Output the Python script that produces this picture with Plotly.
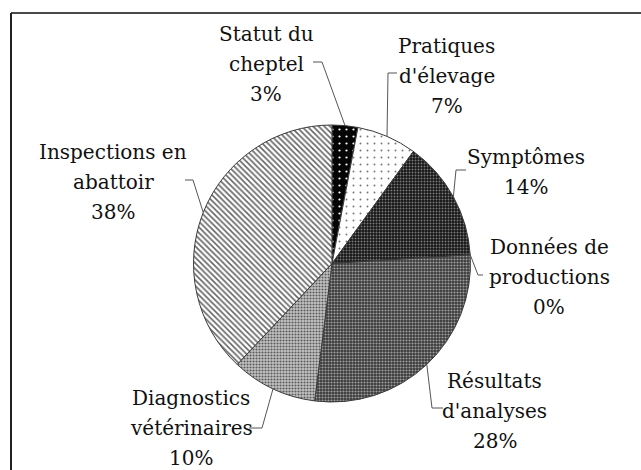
import math
import plotly.graph_objects as go

# ---- data ----
labels = ["Statut du<br>cheptel", "Pratiques<br>d'élevage", "Symptômes", "Données de<br>productions",
          "Résultats<br>d'analyses", "Diagnostics<br>vétérinaires", "Inspections en<br>abattoir"]
values = [3, 7, 14, 0, 28, 10, 38]

# ---- styles ----
W, H = 641, 470
CX, CY, R = 332, 263.5, 138.5
LINE_H = 30
pat_shape = [".", ".", ".", "", ".", ".", "\\"]
pat_fg = ["#ffffff", "#777777", "#7a7a7a", "#000000", "#a0a0a0", "#5a5a5a", "#666666"]
pat_bg = ["#050505", "#ffffff", "#151515", "#ffffff", "#3a3a3a", "#c4c4c4", "#ffffff"]
pat_size = [7, 7, 3, 4, 3, 3, 4]
pat_sol = [0.08, 0.06, 0.35, 0.3, 0.4, 0.4, 0.4]

# label centre positions (px) and leader-line elbows (px): label end, elbow
label_pos = [(266, 64), (447, 76), (526, 172), (549, 277), (495, 411), (191, 428), (113, 182)]
leader = [((313, 62), (322, 62)), ((397, 73), (388, 73)), ((466, 170), (456, 170)),
          ((483, 275), (478, 275)), ((443, 408), (432, 408)), ((249, 428), (262, 428)),
          ((185, 180), (193, 180))]

FONT = "DejaVu Serif"


def px(x):
    return x / W


def py(y):
    return 1 - y / H


fig = go.Figure()
fig.add_trace(go.Pie(
    labels=labels, values=values, sort=False, direction="clockwise", rotation=0,
    textinfo="none", hoverinfo="none", showlegend=False,
    domain=dict(x=[px(CX - R), px(CX + R)], y=[py(CY + R), py(CY - R)]),
    marker=dict(colors=pat_bg,
                line=dict(color="#3a3a3a", width=1),
                pattern=dict(shape=pat_shape, fgcolor=pat_fg, bgcolor=pat_bg,
                             size=pat_size, solidity=pat_sol, fillmode="replace")),
))

total = sum(values)
cum = 0
annotations = []
shapes = []
for i, (lab, v) in enumerate(zip(labels, values)):
    mid = (cum + v / 2) / total * 2 * math.pi
    cum += v
    ex = CX + R * math.sin(mid)
    ey = CY - R * math.cos(mid)
    (lx, ly), (bx, by) = leader[i]
    path = f"M {px(lx)} {py(ly)} L {px(bx)} {py(by)} L {px(ex)} {py(ey)}"
    shapes.append(dict(type="path", path=path, xref="paper", yref="paper",
                       line=dict(color="#555555", width=1)))
    pct = f"{round(v / total * 100)}%"
    lines = lab.split("<br>") + [pct]
    cx, cy = label_pos[i]
    n = len(lines)
    for k, t in enumerate(lines):
        yk = cy + (k - (n - 1) / 2) * LINE_H
        annotations.append(dict(x=px(cx), y=py(yk), xref="paper", yref="paper",
                                text=t, showarrow=False,
                                xanchor="center", yanchor="middle", align="center",
                                font=dict(family=FONT, size=20, color="#111111")))

# frame (top and left edges)
shapes.append(dict(type="line", xref="paper", yref="paper", x0=px(11), x1=1, y0=py(13), y1=py(13),
                   line=dict(color="#4a4a4a", width=2)))
shapes.append(dict(type="line", xref="paper", yref="paper", x0=px(11), x1=px(11), y0=py(13), y1=0,
                   line=dict(color="#222222", width=2)))

fig.update_layout(width=W, height=H, margin=dict(l=0, r=0, t=0, b=0),
                  paper_bgcolor="white", plot_bgcolor="white",
                  font=dict(family=FONT),
                  annotations=annotations, shapes=shapes)
fig.write_html("out.html", config={"displayModeBar": False},
               post_script="document.body.style.margin='0';document.body.style.overflow='hidden';")
